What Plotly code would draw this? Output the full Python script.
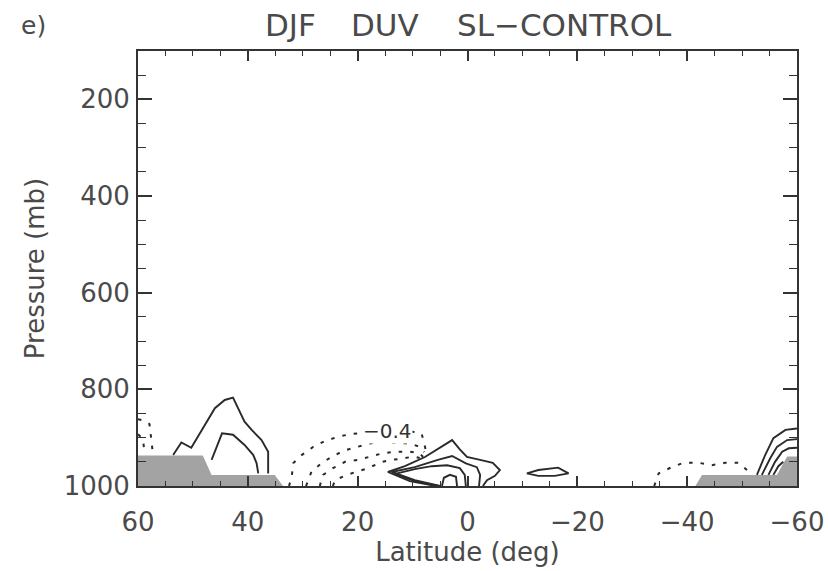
import plotly.graph_objects as go

# ---- contour lines of the zonal-wind difference (lat in deg, pressure in mb) ----
# contour interval 0.4; positive = solid, negative = dotted

# Northern mid-latitudes, positive
nh_a_lat = [53.6, 52.1, 50.3, 47.8, 46.0, 44.2, 42.7, 40.6, 39.3, 37.5, 36.3, 36.3]
nh_a_p = [936, 910, 921, 874, 839, 822, 817, 867, 884, 905, 929, 974]
nh_b_lat = [46.6, 46.0, 44.7, 42.7, 40.6, 39.0, 38.4, 38.1]
nh_b_p = [946, 929, 891, 894, 915, 936, 953, 974]

# Northern edge, negative
nh_c_lat = [60.0, 58.5, 57.9, 57.6, 57.3]
nh_c_p = [862, 866, 872, 901, 932]
nh_d_lat = [60.0, 59.1, 58.8]
nh_d_p = [893, 903, 932]

# Subtropical north, negative
tr_n1_lat = [32.5, 32.0, 31.75, 30.2, 28.1, 26.0, 23.55, 21.4, 19.2, 14.9, 9.9, 8.35, 7.9, 7.6]
tr_n1_p = [1000, 981, 953, 936, 919, 907, 898, 893, 890, 886, 888, 892, 911, 926]
tr_n2_lat = [29.4, 28.4, 26.6, 24.5, 22.3, 19.9, 17.8, 15.35, 12.9, 10.5, 8.7, 7.9]
tr_n2_p = [1000, 970, 953, 938, 926, 919, 912, 908, 911, 912, 919, 930]
tr_n3_lat = [26.9, 26.3, 24.5, 22.3, 19.9, 17.8, 15.35, 12.9, 10.5, 8.7, 8.1]
tr_n3_p = [1000, 977, 963, 950, 946, 939, 932, 929, 929, 932, 940]
tr_n4_lat = [24.5, 24.15, 22.0, 20.2, 18.1, 15.6, 13.8, 11.7, 9.9, 8.7]
tr_n4_p = [1000, 988, 977, 970, 963, 950, 946, 943, 939, 942]

# Equatorial, positive
eq_p1_lat = [5.7, 10.5, 14.5, 11.4, 7.75, 4.65, 2.8, 1.4, 0.1, -2.3, -4.6, -5.9, -5.0, -3.55, -2.8]
eq_p1_p = [1000, 990, 971, 959, 940, 919, 905, 924, 940, 946, 952, 967, 979, 988, 1000]
eq_p2_lat = [5.0, 9.6, 13.8, 9.6, 5.4, 2.8, 0.3, -1.7, -2.3, -2.1]
eq_p2_p = [1000, 988, 971, 961, 946, 938, 953, 961, 977, 1000]
eq_p3_lat = [5.4, 9.6, 13.2, 9.6, 6.5, 3.7, 1.4, 0.5, 0.3]
eq_p3_p = [1000, 990, 975, 965, 959, 957, 963, 977, 1000]
eq_p4_lat = [4.65, 4.3, 3.2, 2.1, 1.9]
eq_p4_p = [1000, 983, 977, 981, 1000]

# Southern tropics, small positive cell
st_p_lat = [-10.8, -12.9, -16.5, -18.4, -15.9, -12.9, -10.8]
st_p_p = [974, 967, 962, 974, 979, 979, 974]

# Southern mid-latitudes, negative
sh_n_lat = [-34.0, -34.8, -37.2, -39.3, -42.1, -44.5, -46.9, -49.35, -50.9, -51.1]
sh_n_p = [1000, 974, 961, 952, 952, 957, 952, 952, 967, 977]

# Southern high latitudes, positive
sh_p1_lat = [-52.7, -54.2, -55.7, -57.9, -60.0]
sh_p1_p = [977, 936, 901, 884, 881]
sh_p2_lat = [-53.6, -55.1, -56.35, -58.2, -60.0]
sh_p2_p = [977, 943, 919, 905, 903]
sh_p3_lat = [-54.8, -56.0, -57.3, -58.5, -60.0]
sh_p3_p = [977, 950, 929, 922, 921]
sh_p4_lat = [-55.7, -56.6, -57.5]
sh_p4_p = [977, 959, 950]

# Surface topography (below-ground mask)
topo_n_lat = [60.0, 48.2, 46.6, 35.1, 33.6, 60.0]
topo_n_p = [937, 937, 977, 977, 1000, 1000]
topo_s_lat = [-41.5, -42.7, -56.35, -58.2, -60.0, -60.0]
topo_s_p = [1000, 977, 977, 939, 939, 1000]

# Axis ticks
x_ticks = [60, 40, 20, 0, -20, -40, -60]
x_tick_text = ["60", "40", "20", "0", "\u221220", "\u221240", "\u221260"]
y_ticks = [200, 400, 600, 800, 1000]

positive_lines = [
    (nh_a_lat, nh_a_p), (nh_b_lat, nh_b_p),
    (eq_p1_lat, eq_p1_p), (eq_p2_lat, eq_p2_p), (eq_p3_lat, eq_p3_p), (eq_p4_lat, eq_p4_p),
    (st_p_lat, st_p_p),
    (sh_p1_lat, sh_p1_p), (sh_p2_lat, sh_p2_p), (sh_p3_lat, sh_p3_p), (sh_p4_lat, sh_p4_p),
]
negative_lines = [
    (nh_c_lat, nh_c_p), (nh_d_lat, nh_d_p),
    (tr_n1_lat, tr_n1_p), (tr_n2_lat, tr_n2_p), (tr_n3_lat, tr_n3_p), (tr_n4_lat, tr_n4_p),
    (sh_n_lat, sh_n_p),
]

FONT = "DejaVu Sans, Liberation Sans, sans-serif"
INK = "#2a2a2a"
TXT = "#4a4a4a"

fig = go.Figure()

for lat, p in [(topo_n_lat, topo_n_p), (topo_s_lat, topo_s_p)]:
    fig.add_trace(go.Scatter(
        x=lat, y=p, mode="lines", fill="toself", fillcolor="#a3a3a3",
        line=dict(width=0, color="#a3a3a3"), hoverinfo="skip", showlegend=False))

for lat, p in positive_lines:
    fig.add_trace(go.Scatter(
        x=lat, y=p, mode="lines", line=dict(color=INK, width=1.9),
        showlegend=False))

for lat, p in negative_lines:
    fig.add_trace(go.Scatter(
        x=lat, y=p, mode="lines", line=dict(color=INK, width=2.0, dash="3.5px,8px"),
        showlegend=False))

# contour label
fig.add_annotation(x=14.6, y=887, text="\u22120.4", showarrow=False,
                   font=dict(family=FONT, size=20, color="#333"), bgcolor="white",
                   borderpad=0, xref="x", yref="y")

# title words and panel letter
for word, xc in [("DJF", 290), ("DUV", 385), ("SL\u2212CONTROL", 564)]:
    fig.add_annotation(x=(xc - 138) / 659, y=1.0, yshift=26, xref="paper", yref="paper",
                       xanchor="center", yanchor="middle", text=word, showarrow=False,
                       font=dict(family=FONT, size=31, color=TXT))
fig.add_annotation(x=(33 - 138) / 659, y=1.0, yshift=26, xref="paper", yref="paper",
                   xanchor="center", yanchor="middle", text="e)", showarrow=False,
                   font=dict(family=FONT, size=25, color=TXT))

axis_common = dict(
    showgrid=False, zeroline=False, showline=True, linewidth=2, linecolor="#333",
    mirror="allticks", ticks="inside", tickwidth=1.6, tickcolor="#333",
    tickfont=dict(family=FONT, size=26, color=TXT), automargin=False,
)

fig.update_xaxes(
    range=[60, -60], tickvals=x_ticks, ticktext=x_tick_text, ticklen=10,
    minor=dict(dtick=5, ticklen=5, ticks="inside", tickcolor="#333", tickwidth=1.4),
    title=dict(text="Latitude (deg)", font=dict(family=FONT, size=26, color=TXT), standoff=6),
    ticklabelstandoff=12,
    **axis_common)
fig.update_yaxes(
    range=[1000, 100], tickvals=y_ticks, ticklen=14,
    minor=dict(dtick=50, ticklen=8, ticks="inside", tickcolor="#333", tickwidth=1.4),
    title=dict(text="Pressure (mb)", font=dict(family=FONT, size=26, color=TXT), standoff=12),
    ticklabelstandoff=1,
    **axis_common)

fig.update_layout(
    width=829, height=571,
    margin=dict(l=138, r=32, t=51, b=85),
    plot_bgcolor="white", paper_bgcolor="white",
    font=dict(family=FONT, color=TXT),
)

fig.write_html("out.html")
